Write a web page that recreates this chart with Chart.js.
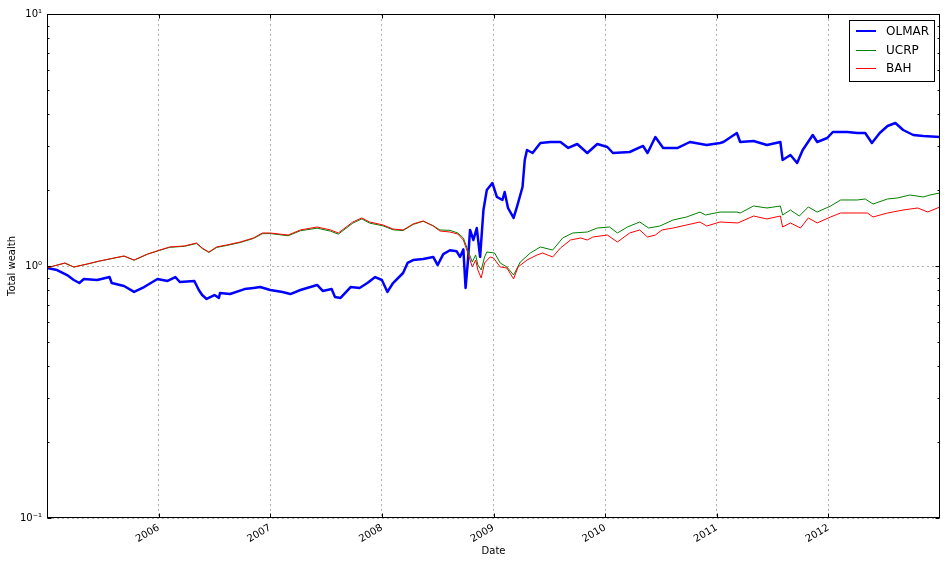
<!DOCTYPE html>
<html>
<head>
<meta charset="UTF-8">
<title>Total wealth</title>
<script src="https://cdn.jsdelivr.net/npm/chart.js@4"></script>
<style>
  body { margin: 0; background: #fff; }
  #box { width: 947px; height: 565px; }
</style>
</head>
<body>
<div id="box"><canvas id="wealthCanvas" width="947" height="565"></canvas></div>
<script>
// dates are decimal years, values are total wealth
var olmarDates = [2005.00, 2005.09, 2005.18, 2005.24, 2005.29, 2005.33, 2005.45, 2005.56, 2005.58, 2005.69,
  2005.78, 2005.87, 2005.99, 2006.08, 2006.15, 2006.19, 2006.32, 2006.36, 2006.39, 2006.43,
  2006.50, 2006.54, 2006.55, 2006.64, 2006.77, 2006.85, 2006.91, 2007.00, 2007.11, 2007.18,
  2007.27, 2007.36, 2007.42, 2007.47, 2007.55, 2007.58, 2007.63, 2007.72, 2007.80, 2007.87,
  2007.94, 2008.00, 2008.05, 2008.10, 2008.19, 2008.23, 2008.28, 2008.37, 2008.46, 2008.50,
  2008.55, 2008.61, 2008.67, 2008.70, 2008.73, 2008.75, 2008.77, 2008.79, 2008.82, 2008.85,
  2008.88, 2008.91, 2008.94, 2008.99, 2009.03, 2009.08, 2009.10, 2009.13, 2009.18, 2009.21,
  2009.26, 2009.28, 2009.30, 2009.35, 2009.42, 2009.51, 2009.60, 2009.67, 2009.75, 2009.84,
  2009.93, 2010.02, 2010.07, 2010.22, 2010.34, 2010.38, 2010.45, 2010.52, 2010.65, 2010.76,
  2010.91, 2011.03, 2011.06, 2011.18, 2011.21, 2011.33, 2011.45, 2011.57, 2011.59, 2011.66,
  2011.72, 2011.77, 2011.86, 2011.90, 2011.99, 2012.04, 2012.17, 2012.26, 2012.33, 2012.39,
  2012.46, 2012.53, 2012.60, 2012.67, 2012.76, 2012.85, 2013.00];
var olmarValues = [0.982, 0.964, 0.921, 0.880, 0.856, 0.888, 0.880, 0.904, 0.856, 0.833,
  0.789, 0.825, 0.888, 0.872, 0.904, 0.864, 0.872, 0.803, 0.767, 0.740,
  0.767, 0.747, 0.781, 0.774, 0.810, 0.818, 0.825, 0.803, 0.789, 0.774,
  0.803, 0.825, 0.841, 0.796, 0.810, 0.753, 0.747, 0.825, 0.818, 0.856,
  0.904, 0.880, 0.789, 0.856, 0.938, 1.028, 1.056, 1.066, 1.086, 1.009,
  1.115, 1.155, 1.144, 1.086, 1.164, 0.818, 1.037, 1.390, 1.268, 1.415,
  1.086, 1.668, 2.003, 2.135, 1.879, 1.828, 1.966, 1.699, 1.551, 1.716,
  2.058, 2.634, 2.886, 2.808, 3.077, 3.105, 3.105, 2.940, 3.049, 2.808,
  3.049, 2.967, 2.808, 2.834, 2.994, 2.808, 3.250, 2.940, 2.940, 3.105,
  3.021, 3.077, 3.105, 3.372, 3.105, 3.134, 3.021, 3.105, 2.634, 2.757,
  2.563, 2.886, 3.310, 3.105, 3.221, 3.402, 3.402, 3.372, 3.372, 3.077,
  3.372, 3.594, 3.694, 3.465, 3.310, 3.280, 3.250];

var ucrpDates = [2005.00, 2005.06, 2005.16, 2005.24, 2005.36, 2005.47, 2005.60, 2005.69, 2005.78, 2005.90,
  2006.01, 2006.10, 2006.23, 2006.34, 2006.39, 2006.45, 2006.52, 2006.61, 2006.73, 2006.85,
  2006.93, 2007.00, 2007.16, 2007.27, 2007.42, 2007.54, 2007.61, 2007.74, 2007.82, 2007.89,
  2008.01, 2008.10, 2008.19, 2008.28, 2008.37, 2008.46, 2008.52, 2008.61, 2008.68, 2008.73,
  2008.77, 2008.81, 2008.84, 2008.86, 2008.89, 2008.92, 2008.94, 2009.01, 2009.06, 2009.12,
  2009.18, 2009.24, 2009.33, 2009.42, 2009.53, 2009.62, 2009.71, 2009.84, 2009.93, 2010.04,
  2010.11, 2010.20, 2010.31, 2010.39, 2010.49, 2010.61, 2010.73, 2010.85, 2010.90, 2011.03,
  2011.18, 2011.21, 2011.33, 2011.45, 2011.57, 2011.59, 2011.66, 2011.74, 2011.82, 2011.90,
  2012.02, 2012.11, 2012.26, 2012.33, 2012.40, 2012.53, 2012.62, 2012.73, 2012.85, 2012.91,
  2013.00];
var ucrpValues = [0.982, 1.000, 1.026, 0.990, 1.017, 1.045, 1.074, 1.094, 1.054, 1.113,
  1.154, 1.186, 1.197, 1.228, 1.174, 1.132, 1.185, 1.206, 1.239, 1.286,
  1.343, 1.345, 1.318, 1.380, 1.413, 1.375, 1.338, 1.480, 1.538, 1.480,
  1.443, 1.392, 1.382, 1.462, 1.505, 1.445, 1.390, 1.385, 1.352, 1.292,
  1.157, 1.037, 1.106, 1.009, 0.964, 1.086, 1.136, 1.126, 1.028, 0.991,
  0.921, 1.037, 1.126, 1.190, 1.157, 1.292, 1.352, 1.364, 1.415, 1.428,
  1.352, 1.428, 1.495, 1.415, 1.441, 1.523, 1.565, 1.637, 1.594, 1.637,
  1.637, 1.623, 1.730, 1.699, 1.730, 1.594, 1.668, 1.579, 1.715, 1.637,
  1.730, 1.828, 1.828, 1.845, 1.762, 1.845, 1.862, 1.913, 1.879, 1.913,
  1.949];

var bahDates = [2005.00, 2005.06, 2005.16, 2005.24, 2005.36, 2005.47, 2005.60, 2005.69, 2005.78, 2005.90,
  2006.01, 2006.10, 2006.23, 2006.34, 2006.39, 2006.45, 2006.52, 2006.61, 2006.73, 2006.85,
  2006.93, 2007.00, 2007.16, 2007.27, 2007.42, 2007.54, 2007.61, 2007.74, 2007.82, 2007.89,
  2008.01, 2008.10, 2008.19, 2008.28, 2008.37, 2008.46, 2008.52, 2008.61, 2008.68, 2008.73,
  2008.77, 2008.81, 2008.84, 2008.86, 2008.89, 2008.92, 2008.97, 2009.00, 2009.06, 2009.12,
  2009.18, 2009.22, 2009.30, 2009.39, 2009.44, 2009.53, 2009.60, 2009.69, 2009.78, 2009.84,
  2009.89, 2010.02, 2010.11, 2010.22, 2010.31, 2010.38, 2010.45, 2010.51, 2010.61, 2010.73,
  2010.85, 2010.91, 2011.03, 2011.19, 2011.33, 2011.45, 2011.57, 2011.59, 2011.66, 2011.75,
  2011.82, 2011.90, 2012.02, 2012.11, 2012.26, 2012.35, 2012.40, 2012.53, 2012.67, 2012.80,
  2012.89, 2013.00];
var bahValues = [0.982, 1.000, 1.028, 0.991, 1.019, 1.047, 1.076, 1.096, 1.056, 1.116,
  1.157, 1.190, 1.201, 1.234, 1.179, 1.136, 1.190, 1.212, 1.245, 1.292,
  1.352, 1.352, 1.327, 1.390, 1.428, 1.390, 1.352, 1.495, 1.551, 1.495,
  1.455, 1.402, 1.390, 1.468, 1.509, 1.441, 1.377, 1.364, 1.340, 1.268,
  1.126, 0.991, 1.056, 0.964, 0.896, 1.028, 1.086, 1.076, 0.991, 0.982,
  0.888, 0.991, 1.056, 1.106, 1.126, 1.086, 1.179, 1.268, 1.292, 1.268,
  1.303, 1.327, 1.245, 1.352, 1.390, 1.303, 1.327, 1.390, 1.415, 1.455,
  1.495, 1.441, 1.495, 1.482, 1.579, 1.537, 1.579, 1.428, 1.482, 1.415,
  1.551, 1.482, 1.565, 1.623, 1.623, 1.623, 1.565, 1.623, 1.668, 1.699,
  1.638, 1.715];

var yearTicks = [2006, 2007, 2008, 2009, 2010, 2011, 2012];
var decadeTicks = [0.1, 1, 10];
var decadeLabels = {0.1: '10\u207B\u00B9', 1: '10\u2070', 10: '10\u00B9'};
var minorSteps = [2, 3, 4, 5, 6, 7, 8, 9];

function points(dates, values) {
    return dates.map(function (d, i) { return {x: d, y: values[i]}; });
}

// frame, inward ticks on all four sides, and the boxed legend
var framePlugin = {
    id: 'framePlugin',
    afterDraw: function (chart) {
        var ctx = chart.ctx, a = chart.chartArea, xs = chart.scales.x, ys = chart.scales.y;
        var L = Math.round(a.left) + 0.5, R = Math.round(a.right) - 0.5;
        var T = Math.round(a.top) + 0.5, B = Math.round(a.bottom) - 0.5;
        ctx.save();
        ctx.strokeStyle = '#000';
        ctx.lineWidth = 1;
        ctx.beginPath();
        yearTicks.forEach(function (v) {
            var px = Math.round(xs.getPixelForValue(v)) + 0.5;
            ctx.moveTo(px, B); ctx.lineTo(px, B - 4);
            ctx.moveTo(px, T); ctx.lineTo(px, T + 4);
        });
        decadeTicks.forEach(function (v) {
            var py = Math.round(ys.getPixelForValue(v)) + 0.5;
            ctx.moveTo(L, py); ctx.lineTo(L + 4, py);
            ctx.moveTo(R, py); ctx.lineTo(R - 4, py);
            if (v < 10) {
                minorSteps.forEach(function (m) {
                    var my = Math.round(ys.getPixelForValue(v * m)) + 0.5;
                    ctx.moveTo(L, my); ctx.lineTo(L + 2, my);
                    ctx.moveTo(R, my); ctx.lineTo(R - 2, my);
                });
            }
        });
        ctx.stroke();
        ctx.strokeRect(L, T, R - L, B - T);

        // legend
        var lx = 849.5, ly = 20.5, lw = 85, lh = 61;
        ctx.fillStyle = '#fff';
        ctx.fillRect(lx, ly, lw, lh);
        ctx.strokeRect(lx, ly, lw, lh);
        ctx.font = '12px "DejaVu Sans"';
        ctx.textBaseline = 'middle';
        ctx.textAlign = 'left';
        chart.data.datasets.forEach(function (ds, i) {
            var yy = 31 + i * 18.5;
            var w = Math.min(ds.borderWidth, 2);
            ctx.strokeStyle = ds.borderColor;
            ctx.lineWidth = w;
            ctx.beginPath();
            ctx.moveTo(856, Math.round(yy) + (w === 1 ? 0.5 : 0));
            ctx.lineTo(876, Math.round(yy) + (w === 1 ? 0.5 : 0));
            ctx.stroke();
            ctx.fillStyle = '#000';
            ctx.fillText(ds.label, 886, yy + 1);
        });
        ctx.restore();
    }
};

window.onload = function () {
    var ctx = document.getElementById('wealthCanvas').getContext('2d');
    window.wealthChart = new Chart(ctx, {
        type: 'line',
        data: {
            datasets: [{
                label: 'OLMAR',
                data: points(olmarDates, olmarValues),
                borderColor: '#0000ff',
                borderWidth: 2.5,
                order: 3
            }, {
                label: 'UCRP',
                data: points(ucrpDates, ucrpValues),
                borderColor: '#008000',
                borderWidth: 1,
                order: 2
            }, {
                label: 'BAH',
                data: points(bahDates, bahValues),
                borderColor: '#ff0000',
                borderWidth: 1,
                order: 1
            }]
        },
        options: {
            responsive: false,
            animation: false,
            events: [],
            elements: {
                point: {radius: 0},
                line: {tension: 0, fill: false, borderJoinStyle: 'round'}
            },
            layout: {padding: {top: 14, right: 7, left: 0, bottom: 0}},
            plugins: {
                legend: {display: false},
                tooltip: {enabled: false}
            },
            scales: {
                x: {
                    type: 'linear',
                    min: 2005,
                    max: 2013,
                    afterBuildTicks: function (scale) {
                        scale.ticks = yearTicks.map(function (v) { return {value: v}; });
                    },
                    afterFit: function (scale) { scale.height = 47; },
                    ticks: {
                        autoSkip: false,
                        minRotation: 30,
                        maxRotation: 30,
                        padding: 4,
                        color: '#000',
                        font: {family: 'DejaVu Sans', size: 10},
                        callback: function (v) { return String(v); }
                    },
                    grid: {color: '#b0b0b0', lineWidth: 1, drawTicks: false},
                    border: {display: false, dash: [2, 3]},
                    title: {
                        display: true,
                        text: 'Date',
                        color: '#000',
                        font: {family: 'DejaVu Sans', size: 10},
                        padding: {top: 0, bottom: 8}
                    }
                },
                y: {
                    type: 'logarithmic',
                    min: 0.1,
                    max: 10,
                    afterBuildTicks: function (scale) {
                        scale.ticks = decadeTicks.map(function (v) { return {value: v}; });
                    },
                    afterFit: function (scale) { scale.width = 47; },
                    ticks: {
                        padding: 5,
                        color: '#000',
                        font: {family: 'DejaVu Sans', size: 10},
                        callback: function (v) { return decadeLabels[v] || ''; }
                    },
                    grid: {color: '#b0b0b0', lineWidth: 1, drawTicks: false},
                    border: {display: false, dash: [2, 3]},
                    title: {
                        display: true,
                        text: 'Total wealth',
                        color: '#000',
                        font: {family: 'DejaVu Sans', size: 10},
                        padding: {top: 6, bottom: 0}
                    }
                }
            }
        },
        plugins: [framePlugin]
    });
};
</script>
</body>
</html>
